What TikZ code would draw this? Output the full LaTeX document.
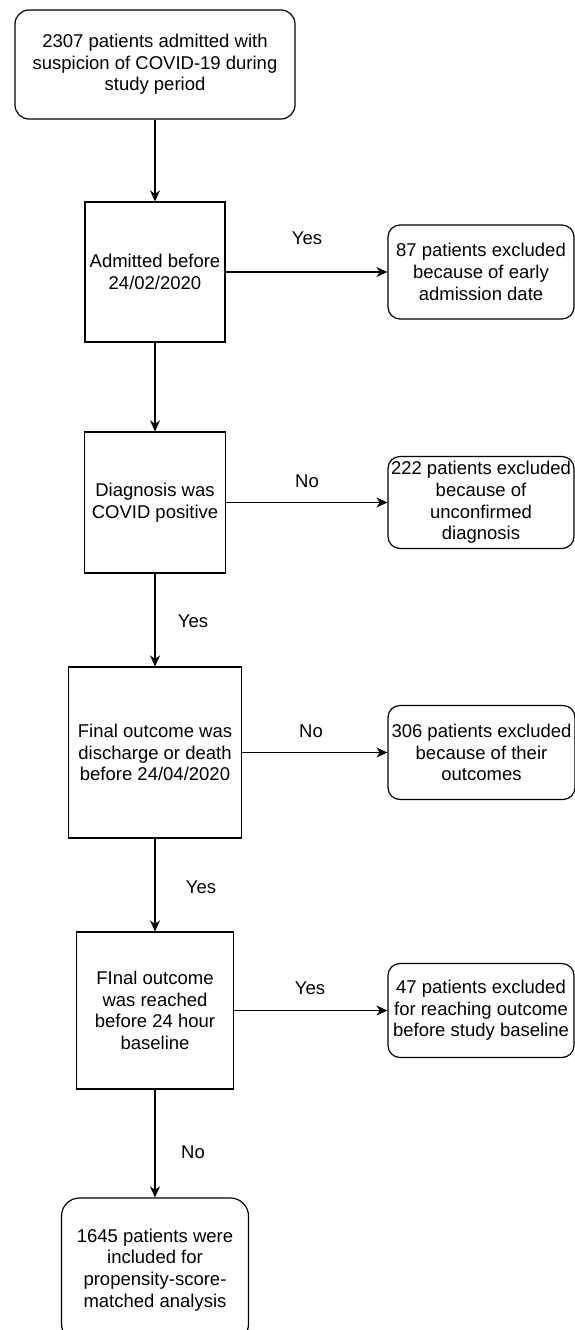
\documentclass[tikz,border=0pt]{standalone}
\usepackage{fontspec}
\setmainfont{Liberation Sans}
\usetikzlibrary{arrows.meta}
\tikzset{>={Stealth[length=11pt,width=10pt,inset=3.5pt]}}
\tikzset{
    flowbox/.style={draw,line width=1.2pt,inner sep=0pt,align=center,
        font=\fontsize{18.5}{21.7}\selectfont},
    roundbox/.style={flowbox,rounded corners=14pt},
    flowline/.style={->,line width=1.2pt},
    choice/.style={font=\fontsize{18.5}{21.7}\selectfont}
}

\begin{document}
\begin{tikzpicture}[x=1pt,y=-1pt]
            \useasboundingbox[draw=none,fill=white] (0,0) rectangle (575,1330);
            \node[roundbox,minimum width=280pt,minimum height=109pt] (start) at (155,64.5)
                {2307 patients admitted with\\suspicion of COVID-19 during\\study period};
            \node[flowbox,minimum width=140pt,minimum height=140pt] (early) at (155,272)
                {Admitted before\\24/02/2020};
            \node[roundbox,rounded corners=12pt,minimum width=186pt,minimum height=94pt] (exearly) at (481,272)
                {87 patients excluded\\because of early\\admission date};
            \node[flowbox,minimum width=141pt,minimum height=141pt] (covid) at (155,502.5)
                {Diagnosis was\\COVID positive};
            \node[roundbox,rounded corners=12pt,minimum width=186pt,minimum height=92pt] (excovid) at (481,502.5)
                {222 patients excluded\\because of\\unconfirmed\\diagnosis};
            \node[flowbox,minimum width=173pt,minimum height=171pt] (outcome) at (155,752.5)
                {Final outcome was\\discharge or death\\before 24/04/2020};
            \node[roundbox,rounded corners=12pt,minimum width=187pt,minimum height=94pt] (exoutcome) at (481.5,752.5)
                {306 patients excluded\\because of their\\outcomes};
            \node[flowbox,minimum width=157pt,minimum height=157pt] (baseline) at (155,1010.5)
                {FInal outcome\\was reached\\before 24 hour\\baseline};
            \node[roundbox,rounded corners=12pt,minimum width=186pt,minimum height=94pt] (exbaseline) at (481,1010.5)
                {47 patients excluded\\for reaching outcome\\before study baseline};
            \node[roundbox,rounded corners=18pt,minimum width=187pt,minimum height=144pt] (included) at (155,1270)
                {1645 patients were\\included for\\propensity-score-\\matched analysis};
            \draw[flowline] (start) -- (early);
            \draw[flowline] (early) -- (covid);
            \draw[flowline] (covid) -- (outcome);
            \draw[flowline] (outcome) -- (baseline);
            \draw[flowline] (baseline) -- (included);
            \draw[flowline] (early) -- (exearly);
            \draw[flowline] (covid) -- (excovid);
            \draw[flowline] (outcome) -- (exoutcome);
            \draw[flowline] (baseline) -- (exbaseline);
            \node[choice] (y1) at (307,238) {Yes};
            \node[choice] (n1) at (307,481) {No};
            \node[choice] (y2) at (193,621) {Yes};
            \node[choice] (n2) at (311,731) {No};
            \node[choice] (y3) at (201,887) {Yes};
            \node[choice] (y4) at (310,988) {Yes};
            \node[choice] (n3) at (193,1152) {No};
        \end{tikzpicture}
\end{document}
